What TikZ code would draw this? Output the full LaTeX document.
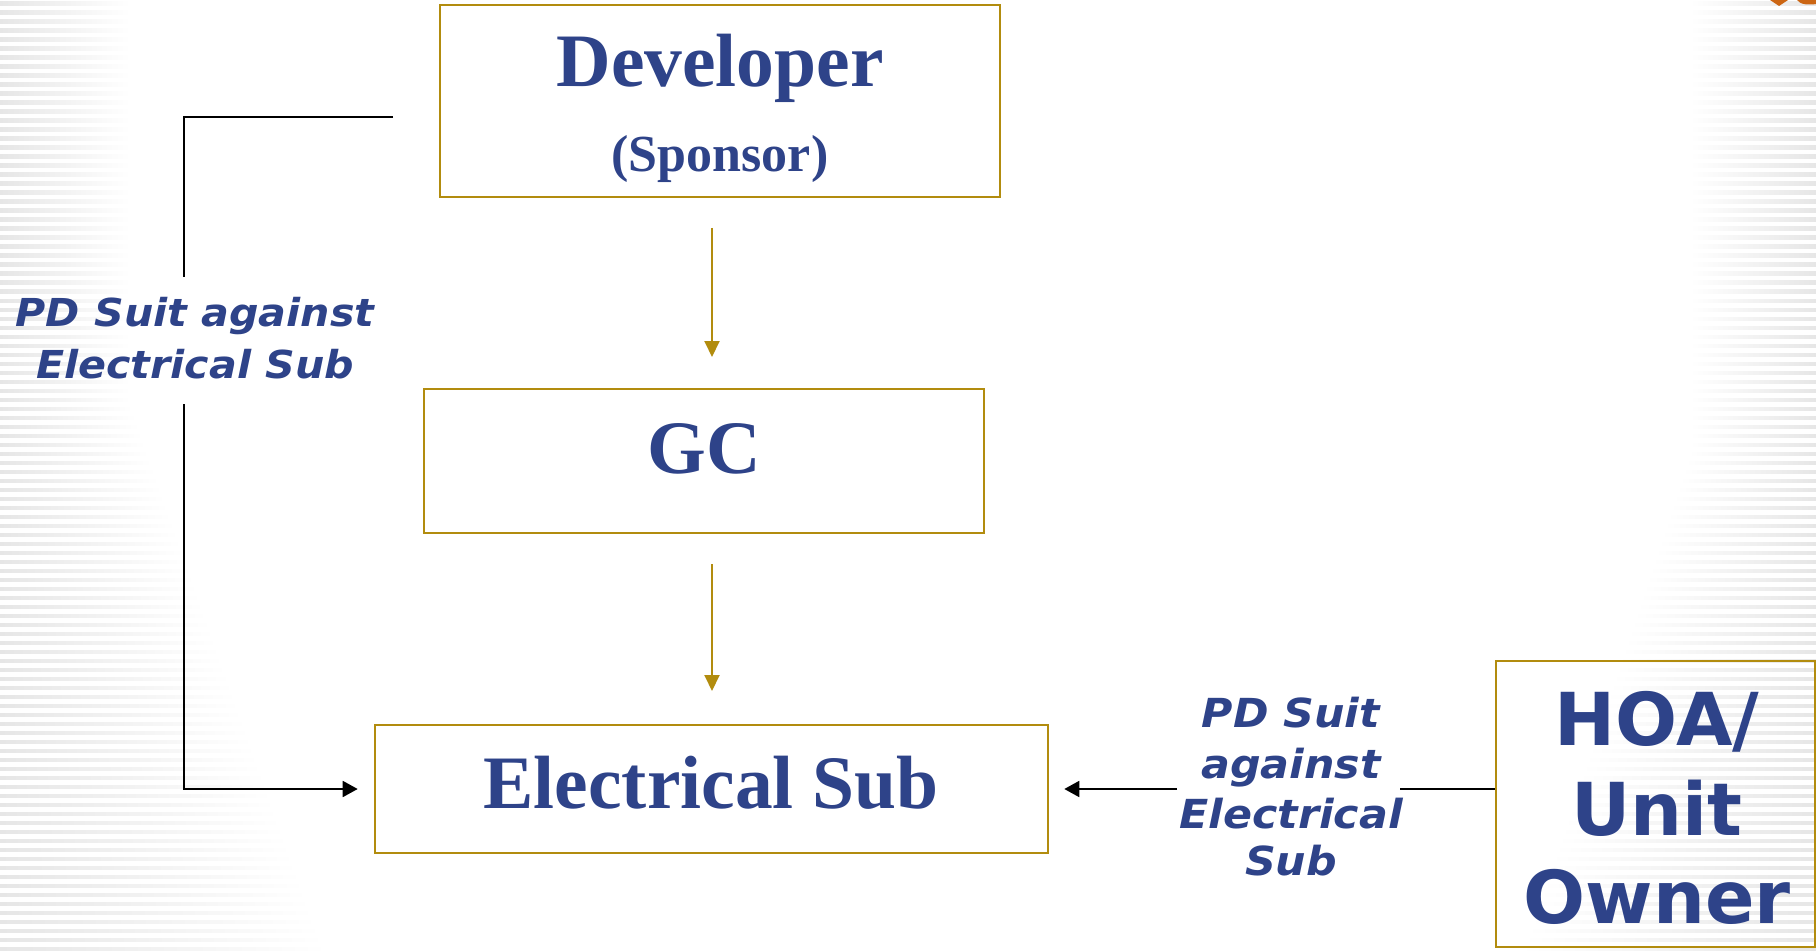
\documentclass[tikz,border=0pt]{standalone}
\usepackage{fontspec}
\setmainfont{Liberation Serif}
\newfontfamily\vfont{DejaVu Sans}
\newfontfamily\lblfont{DejaVu Sans}[FakeStretch=1.07]
\usetikzlibrary{arrows.meta}
\definecolor{navy}{RGB}{46,67,137}
\definecolor{gold}{RGB}{178,140,14}
\definecolor{orng}{RGB}{204,102,20}
\definecolor{stripe}{RGB}{230,230,230}
\begin{document}
\begin{tikzpicture}[x=1pt,y=-1pt,
  box/.style={draw=gold, line width=2.6pt, rectangle, inner sep=0pt},
  title/.style={text=navy, inner sep=0pt, anchor=base,
    font=\fontsize{75.5}{90}\selectfont\bfseries},
  subtitle/.style={text=navy, inner sep=0pt, anchor=base,
    font=\fontsize{52}{60}\selectfont\bfseries},
  bigsans/.style={text=navy, inner sep=0pt, anchor=base,
    font=\vfont\bfseries\fontsize{73}{90}\selectfont},
  lbl/.style={text=navy, inner sep=0pt, anchor=base,
    font=\lblfont\bfseries\itshape\fontsize{38.5}{50}\selectfont},
  lblr/.style={lbl, font=\lblfont\bfseries\itshape\fontsize{40}{50}\selectfont},
  link/.style={draw=black, line width=1.8pt},
  goldarrow/.style={draw=gold, line width=2pt, -{Triangle[length=16pt,width=15pt]}},
  blacktip/.style={-{Triangle[length=15pt,width=16pt]}}
]
\useasboundingbox (0,0) rectangle (1816,952);
\fill[white] (0,0) rectangle (1816,952);

% striped fading bands along the left and right edges
\foreach \i in {0,...,105} {
  \pgfmathsetmacro\yy{\i*9+2}
  \pgfmathsetmacro\ll{\yy<400 ? 130 : 130+(\yy-400)*0.36}
  \pgfmathsetmacro\rs{\yy<450 ? 1690 : 1690-(\yy-450)*0.34}
  \shade[left color=stripe, right color=white] (0,\yy) rectangle (\ll,\yy+3.5);
  \shade[left color=white, right color=stripe] (\rs,\yy) rectangle (1816,\yy+3.5);
}

% corner ornament
\fill[orng] (1770,0) -- (1779,6) -- (1788,0) -- cycle;
\fill[orng] (1797,0) .. controls (1800,5) and (1810,5) .. (1816,4) -- (1816,0) -- cycle;

% boxes
\node[box, minimum width=560pt, minimum height=192pt] (dev) at (720,101) {};
\node[box, minimum width=560pt, minimum height=144pt] (gc) at (704,461) {};
\node[box, minimum width=673pt, minimum height=128pt] (esub) at (711.5,789) {};
\node[box, minimum width=319pt, minimum height=286pt] (hoa) at (1655.5,804) {};

% box texts
\node[title] (devt) at (720,87) {Developer};
\node[subtitle] (devs) at (720,172) {(Sponsor)};
\node[title] (gct) at (704,473) {GC};
\node[title] (esubt) at (711,808) {Electrical Sub};
\node[bigsans] (hoa1) at (1657,745) {HOA/};
\node[bigsans] (hoa2) at (1657,835) {Unit};
\node[bigsans] (hoa3) at (1657,923) {Owner};

% suit labels
\node[lbl] (la1) at (195,326) {PD Suit against};
\node[lbl] (la2) at (195,378) {Electrical Sub};
\node[lblr] (lb1) at (1291,727) {PD Suit};
\node[lblr] (lb2) at (1291,778) {against};
\node[lblr] (lb3) at (1291,828) {Electrical};
\node[lblr] (lb4) at (1291,875) {Sub};

% chain of contracts
\coordinate (g1s) at (712,228);
\coordinate (g1e) at (712,357);
\coordinate (g2s) at (712,564);
\coordinate (g2e) at (712,691);
\draw[goldarrow] (g1s) -- (g1e);
\draw[goldarrow] (g2s) -- (g2e);

% developer's suit
\coordinate (L0) at (393,117);
\coordinate (L1) at (184,277);
\coordinate (L2) at (184,404);
\draw[link] (L0) -| (L1);
\draw[link, blacktip] (L2) |- ([xshift=-16pt]esub.west);

% owner's suit
\coordinate (R0) at (1400,789);
\coordinate (R1) at (1177,789);
\draw[link] (hoa.west |- esub.east) -- (R0);
\draw[link, blacktip] (R1) -- ([xshift=15pt]esub.east);
\end{tikzpicture}
\end{document}
